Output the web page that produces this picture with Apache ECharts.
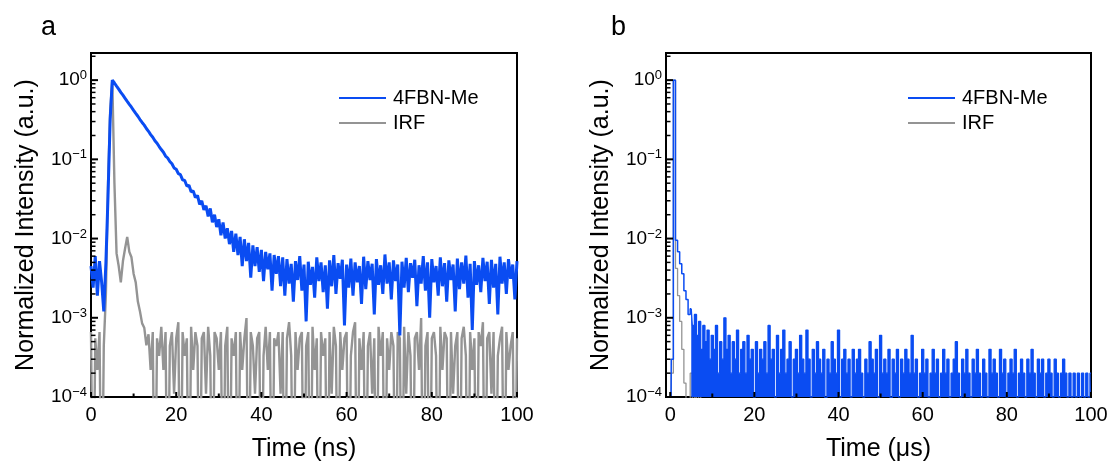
<!DOCTYPE html>
<html>
<head>
<meta charset="utf-8">
<script src="https://cdn.jsdelivr.net/npm/echarts@6/dist/echarts.min.js"></script>
<style>
html, body { margin: 0; padding: 0; background: #fff; }
#chart { width: 1113px; height: 468px; }
</style>
</head>
<body>
<div id="chart"></div>
<script>
// 时间轴采样（ns / μs）
const timeStartA = 0
const timeStepA = 0.5
const timeStartB = -1
const timeStepB = 0.5

// a: 4FBN-Me 衰减曲线 (ns)
const fbnA = [
  0.0045, 0.0024, 0.0060, 0.0019, 0.0052, 0.0028, 0.0012, 0.0050, 0.035, 0.32, 1.0,
  0.92, 0.84, 0.77, 0.70, 0.645, 0.59, 0.54, 0.495, 0.455, 0.415,
  0.38, 0.35, 0.318, 0.292, 0.27, 0.245, 0.226, 0.205, 0.19, 0.172,
  0.16, 0.145, 0.133, 0.123, 0.11, 0.104, 0.094, 0.088, 0.078, 0.075,
  0.066, 0.064, 0.055, 0.054, 0.046, 0.047, 0.039, 0.040, 0.033, 0.035,
  0.027, 0.030, 0.023, 0.026, 0.019, 0.024, 0.016, 0.020, 0.014, 0.0175,
  0.011, 0.016, 0.010, 0.0135, 0.0085, 0.0125, 0.0068, 0.0115, 0.0062, 0.0105,
  0.0045, 0.0098, 0.0052, 0.0088, 0.0032, 0.0082, 0.0045, 0.0078, 0.0038, 0.0072,
  0.0029, 0.0068, 0.0041, 0.0065, 0.0022, 0.0062, 0.0036, 0.0060, 0.0025, 0.0058,
  0.0019, 0.0055, 0.0027, 0.0048, 0.0016, 0.0052, 0.0030, 0.0060, 0.0022, 0.0047,
  0.0009, 0.0051, 0.0026, 0.0044, 0.0018, 0.0058, 0.0029, 0.0050, 0.0021, 0.0046,
  0.0013, 0.0053, 0.0025, 0.0062, 0.0020, 0.0049, 0.0031, 0.0054, 0.0008, 0.0047,
  0.0024, 0.0056, 0.0019, 0.0050, 0.0028, 0.0045, 0.0015, 0.0059, 0.0023, 0.0052,
  0.0030, 0.0048, 0.0011, 0.0055, 0.0026, 0.0046, 0.0020, 0.0063, 0.0027, 0.0050,
  0.0017, 0.0053, 0.0029, 0.0047, 0.0006, 0.0051, 0.0024, 0.0057, 0.0021, 0.0049,
  0.0032, 0.0054, 0.0014, 0.0046, 0.0027, 0.0060, 0.0022, 0.0050, 0.0010, 0.0055,
  0.0028, 0.0045, 0.0019, 0.0058, 0.0025, 0.0049, 0.0016, 0.0053, 0.0030, 0.0047,
  0.0012, 0.0056, 0.0023, 0.0050, 0.0027, 0.0061, 0.0018, 0.0048, 0.0007, 0.0052,
  0.0026, 0.0046, 0.0021, 0.0057, 0.0029, 0.0051, 0.0015, 0.0054, 0.0024, 0.0048,
  0.0011, 0.0059, 0.0027, 0.0050, 0.0020, 0.0055, 0.0031, 0.0047, 0.0017, 0.0052
]

// a: IRF (ns)，1e-6 表示零计数（低于坐标轴）
const irfA = [
  6.6e-4, 1e-6, 5.5e-4, 2.2e-4, 6.6e-4, 1e-6, 4.4e-4, 0.002, 0.05, 0.4, 1.0,
  0.05, 0.0065, 0.0045, 0.0028, 0.0052, 0.0075, 0.0105, 0.0068, 0.0058, 0.0036,
  0.0028, 0.0016, 0.0012, 0.00085, 0.00075, 0.00045, 0.00062, 0.00022,
  6.6e-4, 1e-6, 5.5e-4, 3.3e-4, 7.7e-4, 2.2e-4, 6.6e-4, 1e-6, 4.4e-4, 6.6e-4,
  1.1e-4, 5.5e-4, 8.8e-4, 1e-6, 6.6e-4, 3.3e-4, 5.5e-4, 1e-6, 7.7e-4, 2.2e-4,
  6.6e-4, 4.4e-4, 1e-6, 5.5e-4, 6.6e-4, 1.1e-4, 7.7e-4, 3.3e-4, 1e-6, 6.6e-4,
  5.5e-4, 2.2e-4, 6.6e-4, 1e-6, 4.4e-4, 7.7e-4, 1e-6, 5.5e-4, 3.3e-4, 6.6e-4,
  1e-6, 6.6e-4, 2.2e-4, 5.5e-4, 9.9e-4, 1e-6, 6.6e-4, 4.4e-4, 1.1e-4, 5.5e-4,
  6.6e-4, 1e-6, 3.3e-4, 7.7e-4, 2.2e-4, 6.6e-4, 1e-6, 5.5e-4, 4.4e-4, 6.6e-4,
  1.1e-4, 6.6e-4, 1e-6, 5.5e-4, 8.8e-4, 3.3e-4, 1e-6, 6.6e-4, 2.2e-4, 5.5e-4,
  6.6e-4, 1e-6, 4.4e-4, 6.6e-4, 1e-6, 7.7e-4, 2.2e-4, 5.5e-4, 1e-6, 6.6e-4,
  3.3e-4, 5.5e-4, 1e-6, 6.6e-4, 1.1e-4, 7.7e-4, 4.4e-4, 1e-6, 6.6e-4, 2.2e-4,
  5.5e-4, 6.6e-4, 1e-6, 3.3e-4, 6.6e-4, 8.8e-4, 1e-6, 5.5e-4, 2.2e-4, 6.6e-4,
  1e-6, 4.4e-4, 6.6e-4, 1.1e-4, 5.5e-4, 1e-6, 7.7e-4, 3.3e-4, 6.6e-4, 1e-6,
  5.5e-4, 2.2e-4, 6.6e-4, 4.4e-4, 1e-6, 6.6e-4, 5.5e-4, 1e-6, 7.7e-4, 1.1e-4,
  6.6e-4, 3.3e-4, 1e-6, 5.5e-4, 6.6e-4, 2.2e-4, 9.9e-4, 1e-6, 4.4e-4, 6.6e-4,
  1e-6, 5.5e-4, 6.6e-4, 3.3e-4, 1e-6, 7.7e-4, 2.2e-4, 6.6e-4, 5.5e-4, 1e-6,
  6.6e-4, 1.1e-4, 4.4e-4, 6.6e-4, 1e-6, 5.5e-4, 7.7e-4, 3.3e-4, 1e-6, 6.6e-4,
  2.2e-4, 5.5e-4, 1e-6, 6.6e-4, 4.4e-4, 8.8e-4, 1e-6, 5.5e-4, 6.6e-4, 1.1e-4,
  6.6e-4, 1e-6, 3.3e-4, 5.5e-4, 7.7e-4, 1e-6, 6.6e-4, 2.2e-4, 4.4e-4, 6.6e-4,
  1e-6, 5.5e-4
]

// b: 4FBN-Me 衰减曲线 (μs)
const fbnB = [
  1e-6, 1e-6, 1e-6, 3e-4, 1.0, 0.0095, 0.0068, 0.0048, 0.0036, 0.0022,
  0.0017, 0.0011, 0.0013, 0.0008, 0.0011, 0.0006, 0.0009, 0.0004, 0.0008, 0.0005,
  0.0007, 0.0003, 0.0006, 0.0004, 0.0008, 0.0002, 0.0005, 0.0003, 0.0010, 0.0004,
  0.0006, 0.0002, 0.0005, 0.0003, 0.0007, 0.0002, 0.0004, 0.0005, 0.0002, 0.0006,
  0.0003, 0.0004, 0.0001, 0.0005, 0.0002, 0.0004, 0.0003, 0.0005, 0.0002, 0.0008,
  0.0003, 0.0004, 0.0001, 0.0006, 0.0002, 0.0004, 0.0007, 0.0002, 0.0003, 0.0005,
  0.0001, 0.0003, 0.0004, 0.0002, 0.0006, 0.0003, 0.0002, 0.0007, 0.0003, 0.0001,
  0.0004, 0.0002, 0.0005, 0.0003, 0.0002, 0.0004, 1e-6, 0.0003, 0.0002, 0.0005,
  0.0003, 0.0002, 0.0007, 0.0001, 0.0003, 0.0004, 0.0002, 0.0003, 0.0001, 0.0004,
  0.0002, 0.0003, 0.0004, 0.0002, 0.0001, 0.0003, 0.0002, 0.0005, 0.0003, 0.0002,
  0.0004, 0.0001, 0.0006, 0.0002, 0.0003, 0.0002, 0.0004, 1e-6, 0.0003, 0.0002,
  0.0004, 0.0001, 0.0003, 0.0002, 0.0004, 0.0003, 0.0002, 0.0006, 0.0002, 0.0003,
  0.0001, 0.0002, 0.0004, 0.0002, 0.0003, 0.0001, 0.0002, 0.0004, 0.0002, 0.0003,
  0.0001, 0.0002, 0.0004, 0.0002, 0.0003, 0.0001, 0.0002, 0.0003, 0.0005, 0.0002,
  0.0001, 0.0003, 0.0002, 0.0004, 0.0002, 0.0001, 0.0003, 0.0002, 0.0004, 0.0002,
  0.0001, 0.0003, 0.0002, 0.0001, 0.0004, 0.0002, 0.0003, 0.0002, 0.0001, 0.0004,
  0.0002, 0.0003, 0.0001, 0.0002, 0.0003, 0.0002, 0.0004, 0.0001, 0.0002, 0.0003,
  0.0002, 0.0001, 0.0003, 0.0002, 0.0004, 0.0002, 0.0001, 0.0003, 0.0002, 0.0003,
  0.0001, 0.0002, 0.0003, 0.0002, 0.0001, 0.0003, 0.0002, 0.0001, 0.0002, 0.0003,
  0.0002, 0.0001, 0.0002, 0.0001, 0.0002, 0.0001, 0.0002, 0.0001, 0.0002, 0.0001,
  0.0002, 0.0001, 0.0002
]
// b 中噪声段（计数填满到底部）的起始下标
const noiseStartB = 12

// b: IRF (μs)
const irfB = [
  1e-6, 1e-6, 1e-6, 2e-4, 1.0, 0.0042, 0.0019, 0.0009, 0.0004, 0.00015,
  1e-6, 1e-6, 0.0002, 1e-6, 0.0001, 1e-6, 0.0002, 1e-6, 1e-6
]

// 刻度
const xMajorTicks = [0, 20, 40, 60, 80, 100]
const xMinorTicks = [10, 30, 50, 70, 90]
const yMajorTicks = [1e-4, 1e-3, 1e-2, 1e-1, 1]
const yMinorTicks = [
  2e-4, 3e-4, 4e-4, 5e-4, 6e-4, 7e-4, 8e-4, 9e-4,
  2e-3, 3e-3, 4e-3, 5e-3, 6e-3, 7e-3, 8e-3, 9e-3,
  2e-2, 3e-2, 4e-2, 5e-2, 6e-2, 7e-2, 8e-2, 9e-2,
  0.2, 0.3, 0.4, 0.5, 0.6, 0.7, 0.8, 0.9, 2
]

const FONT = '"Liberation Sans", Arial, sans-serif'
const BLUE = '#0a4cf2'
const GRAY = '#949494'
const Y_MIN = 1e-4
const Y_MAX = 2.2

const toPairs = (values, start, step) => values.map((v, i) => [start + i * step, v])

const chart = echarts.init(document.getElementById('chart'))

const xAxisOf = (gridIndex, min, name) => ({
  type: 'value',
  gridIndex,
  min,
  max: 100,
  position: 'bottom',
  name,
  nameLocation: 'middle',
  nameGap: 40,
  nameTextStyle: { fontSize: 25, color: '#000', fontFamily: FONT },
  axisLine: { show: true, onZero: false, lineStyle: { color: '#000', width: 2 } },
  axisTick: { show: false },
  axisLabel: { show: true, customValues: xMajorTicks, fontSize: 20, color: '#000', margin: 8, fontFamily: FONT },
  splitLine: { show: false }
})

const yAxisOf = (gridIndex) => ({
  type: 'log',
  logBase: 10,
  gridIndex,
  min: Y_MIN,
  max: Y_MAX,
  position: 'left',
  name: 'Normalized Intensity (a.u.)',
  nameLocation: 'middle',
  nameGap: 52,
  nameTextStyle: { fontSize: 25, color: '#000', fontFamily: FONT },
  axisLine: { show: true, onZero: false, lineStyle: { color: '#000', width: 2 } },
  axisTick: { show: false },
  axisLabel: {
    show: true,
    customValues: yMajorTicks,
    margin: 4,
    formatter: (v) => {
      const e = Math.round(Math.log10(v))
      return '{b|10}{s|' + (e < 0 ? '\u2212' + (-e) : e) + '}'
    },
    rich: {
      b: { fontSize: 19, color: '#000', fontFamily: FONT, lineHeight: 22 },
      s: { fontSize: 13, color: '#000', fontFamily: FONT, lineHeight: 13, verticalAlign: 'top' }
    }
  },
  splitLine: { show: false }
})

// 刻度线：按坐标轴换算位置后朝内绘制
const tickSeries = (axisIndex, dim, values, anchor, len, width) => ({
  type: 'custom',
  xAxisIndex: axisIndex,
  yAxisIndex: axisIndex,
  silent: true,
  clip: false,
  z: 10,
  data: values.map(v => (dim === 'y' ? [anchor, v] : [v, anchor])),
  renderItem: (params, api) => {
    const p = api.coord([api.value(0), api.value(1)])
    const shape = dim === 'y'
      ? { x1: p[0], y1: p[1], x2: p[0] + len, y2: p[1] }
      : { x1: p[0], y1: p[1], x2: p[0], y2: p[1] - len }
    return { type: 'line', shape, style: { stroke: '#000', lineWidth: width } }
  }
})

const ticksFor = (axisIndex, xMin) => [
  tickSeries(axisIndex, 'y', yMajorTicks, xMin, 7, 2),
  tickSeries(axisIndex, 'y', yMinorTicks, xMin, 4.5, 1.5),
  tickSeries(axisIndex, 'x', xMajorTicks, Y_MIN, 5, 2),
  tickSeries(axisIndex, 'x', xMinorTicks, Y_MIN, 3.5, 2)
]

const legendOf = (left) => ({
  data: ['4FBN-Me', 'IRF'],
  left,
  top: 88,
  orient: 'vertical',
  icon: 'rect',
  itemWidth: 47,
  itemHeight: 2,
  itemGap: 5,
  padding: 0,
  textStyle: { fontSize: 20, color: '#000', fontFamily: FONT, lineHeight: 20, padding: [0, 0, 0, 2] }
})

const lineSeries = (name, color, data, axisIndex, step, width, z, area) => ({
  name,
  type: 'line',
  xAxisIndex: axisIndex,
  yAxisIndex: axisIndex,
  data,
  step,
  symbol: 'none',
  sampling: 'none',
  z,
  lineStyle: { width, color },
  itemStyle: { color },
  areaStyle: area ? { color, opacity: 1, origin: 'start' } : undefined
})

const pairsB = toPairs(fbnB, timeStartB, timeStepB)

const option = {
  animation: false,
  backgroundColor: '#fff',
  title: [
    { text: 'a', left: 36, top: 9, textStyle: { fontSize: 27, fontWeight: 'normal', color: '#000', fontFamily: FONT } },
    { text: 'b', left: 606, top: 9, textStyle: { fontSize: 27, fontWeight: 'normal', color: '#000', fontFamily: FONT } }
  ],
  legend: [legendOf(339), legendOf(908)],
  grid: [
    { left: 91, right: 596, top: 53, bottom: 71, show: true, borderColor: '#000', borderWidth: 2, outerBoundsMode: 'none' },
    { left: 666, right: 22, top: 53, bottom: 71, show: true, borderColor: '#000', borderWidth: 2, outerBoundsMode: 'none' }
  ],
  xAxis: [xAxisOf(0, 0, 'Time (ns)'), xAxisOf(1, -1, 'Time (\u03bcs)')],
  yAxis: [yAxisOf(0), yAxisOf(1)],
  series: [
    lineSeries('IRF', GRAY, toPairs(irfA, timeStartA, timeStepA), 0, false, 2.4, 2, false),
    lineSeries('4FBN-Me', BLUE, toPairs(fbnA, timeStartA, timeStepA), 0, false, 3, 3, false),
    lineSeries('IRF', GRAY, toPairs(irfB, timeStartB, timeStepB), 1, 'middle', 1.3, 2, false),
    lineSeries('4FBN-Me', BLUE, pairsB.slice(0, noiseStartB + 1), 1, 'middle', 1.5, 3, false),
    lineSeries('4FBN-Me', BLUE, pairsB.slice(noiseStartB), 1, 'middle', 1.3, 3, true),
    ...ticksFor(0, 0),
    ...ticksFor(1, -1)
  ]
}

chart.setOption(option)
window.addEventListener('resize', () => chart.resize())
</script>
</body>
</html>
